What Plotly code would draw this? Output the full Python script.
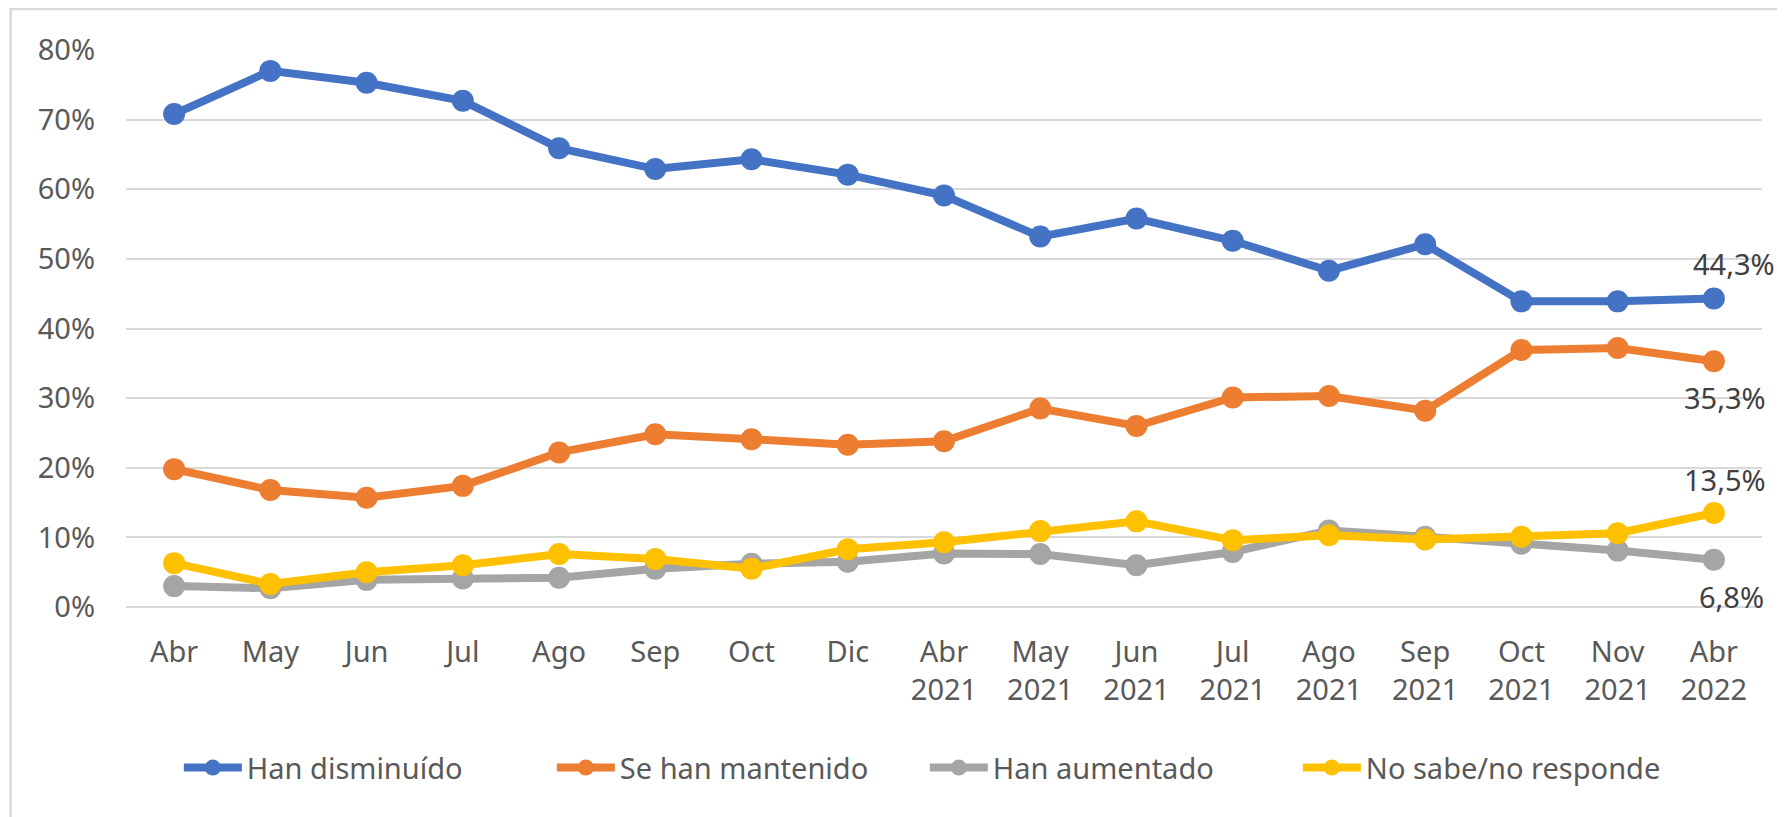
import plotly.graph_objects as go

categories = ["Abr", "May", "Jun", "Jul", "Ago", "Sep", "Oct", "Dic",
              "Abr<br>2021", "May<br>2021", "Jun<br>2021", "Jul<br>2021",
              "Ago<br>2021", "Sep<br>2021", "Oct<br>2021", "Nov<br>2021",
              "Abr<br>2022"]

han_disminuido = [70.8, 77.0, 75.3, 72.7, 65.9, 62.9, 64.3, 62.1, 59.1,
                  53.2, 55.8, 52.6, 48.3, 52.1, 43.9, 43.9, 44.3]
se_han_mantenido = [19.8, 16.8, 15.7, 17.4, 22.2, 24.8, 24.1, 23.3, 23.8,
                    28.5, 26.0, 30.1, 30.3, 28.2, 36.9, 37.2, 35.3]
han_aumentado = [3.0, 2.7, 3.9, 4.1, 4.2, 5.5, 6.2, 6.5, 7.7,
                 7.6, 6.0, 7.9, 11.0, 10.1, 9.1, 8.1, 6.8]
no_sabe = [6.3, 3.3, 5.0, 6.0, 7.6, 6.9, 5.5, 8.3, 9.3,
           10.9, 12.3, 9.6, 10.3, 9.7, 10.1, 10.6, 13.5]

series = [
    ("Han disminuído", han_disminuido, "#4472C4"),
    ("Se han mantenido", se_han_mantenido, "#ED7D31"),
    ("Han aumentado", han_aumentado, "#A5A5A5"),
    ("No sabe/no responde", no_sabe, "#FFC000"),
]

FONT = "Noto Sans"
TXT = "#595959"

fig = go.Figure()
for name, vals, col in series:
    fig.add_trace(go.Scatter(
        x=categories, y=vals, name=name, mode="lines+markers",
        line=dict(color=col, width=8),
        marker=dict(color=col, size=22),
        cliponaxis=False,
    ))

# end-of-series data labels
label_offsets = {"Han disminuído": (20, 35), "Se han mantenido": (11, -36),
                 "Han aumentado": (18, -37), "No sabe/no responde": (11, 34)}
for name, vals, col in series:
    dx, dy = label_offsets[name]
    fig.add_annotation(
        x=categories[-1], y=vals[-1], xref="x", yref="y",
        text=(f"{vals[-1]:.1f}".replace(".", ",") + "%"),
        showarrow=False, xshift=dx, yshift=dy,
        font=dict(family=FONT, size=29, color="#404040"),
    )

# outer chart frame (cropped at right/bottom)
fig.add_shape(type="rect", xref="paper", yref="paper",
              x0=-0.0705, x1=1.2, y0=-0.6, y1=1.0736,
              line=dict(color="#D9D9D9", width=2.5), layer="below")

fig.update_layout(
    width=1777, height=809, autosize=False,
    margin=dict(l=118, r=23, t=42, b=210),
    paper_bgcolor="white", plot_bgcolor="white",
    font=dict(family=FONT, size=29, color=TXT),
    showlegend=True,
    legend=dict(orientation="h", x=0.0323, xanchor="left", y=-0.2885,
                yanchor="middle", font=dict(family=FONT, size=29, color=TXT),
                entrywidth=300, entrywidthmode="pixels", itemwidth=58,
                bgcolor="rgba(0,0,0,0)"),
    xaxis=dict(type="category", range=[-0.5, 16.5], showgrid=False,
               showline=False, zeroline=False, ticks="",
               tickfont=dict(family=FONT, size=29, color=TXT),
               ticklabelstandoff=25),
    yaxis=dict(range=[0, 80], dtick=10, ticksuffix="%", showgrid=True,
               gridcolor="#D9D9D9", gridwidth=2, zeroline=True,
               zerolinecolor="#D9D9D9", zerolinewidth=2, showline=False,
               ticks="", tickfont=dict(family=FONT, size=29, color=TXT),
               ticklabelstandoff=30),
)

fig.write_html("out.html")
